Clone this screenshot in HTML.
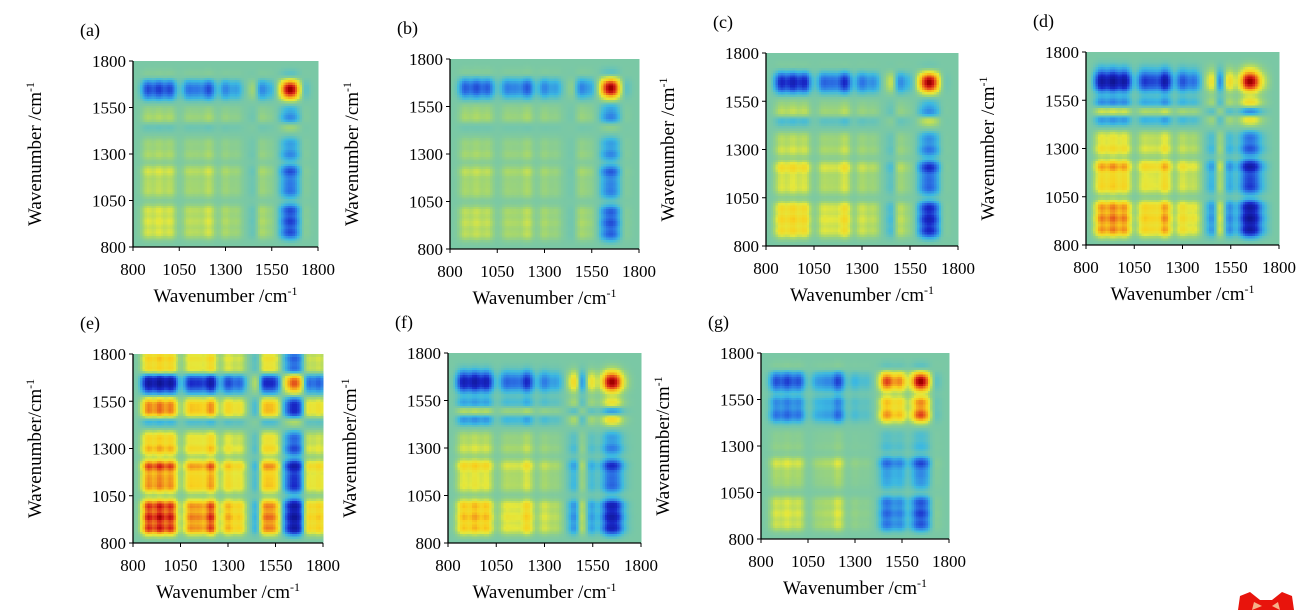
<!DOCTYPE html>
<html><head><meta charset="utf-8">
<style>
html,body{margin:0;padding:0;background:#fff;}
svg{display:block;font-family:"Liberation Serif","Times New Roman",serif;}
</style></head>
<body>
<svg id="fig" width="1302" height="610" viewBox="0 0 1302 610">
<g id="panels"></g>
<path d="M1238 610 L1240 596 L1250 592 L1260 600 L1272 600 L1282 592 L1292 596 L1294 610 Z" fill="#e8140c"/>
<path d="M1252 610 L1254 602 L1262 606 Z M1280 610 L1278 602 L1272 606 Z" fill="#f6b28a"/>
</svg>
<script>
// Shared band centres (cm^-1)
const bandCenters = [880, 940, 1000, 1100, 1150, 1210, 1300, 1360, 1460, 1490, 1540, 1620, 1650, 1680, 1720, 1780];
// Band amplitudes per panel (dynamic spectrum weights)
const ampA = [-0.42, -0.45, -0.42, -0.28, -0.25, -0.42, -0.25, -0.18, 0.15, -0.28, -0.12, 0.45, 0.6, 0.45, -0.1, 0.0];
const ampB = [-0.36, -0.4, -0.36, -0.25, -0.22, -0.38, -0.25, -0.18, 0.1, -0.28, -0.15, 0.45, 0.6, 0.45, -0.1, 0.0];
const ampC = [-0.55, -0.6, -0.55, -0.32, -0.28, -0.55, -0.3, -0.22, 0.25, -0.3, -0.1, 0.45, 0.6, 0.45, -0.05, 0.0];
const ampD = [-0.72, -0.78, -0.72, -0.45, -0.38, -0.7, -0.4, -0.3, 0.4, -0.42, 0.35, 0.45, 0.6, 0.45, 0.1, 0.0];
const ampE = [-0.92, -0.98, -0.92, -0.6, -0.55, -0.88, -0.55, -0.42, 0.3, -0.7, -0.6, 0.4, 0.55, 0.4, -0.45, -0.45];
const ampF = [-0.62, -0.68, -0.62, -0.32, -0.28, -0.55, -0.28, -0.18, 0.45, -0.38, 0.3, 0.45, 0.6, 0.45, 0.05, 0.0];
const ampG = [-0.4, -0.45, -0.4, -0.18, -0.22, -0.45, -0.12, -0.08, 0.55, 0.35, 0.55, 0.45, 0.6, 0.45, -0.1, 0.0];
const panelLabels = ["(a)", "(b)", "(c)", "(d)", "(e)", "(f)", "(g)"];
const tickValues = [800, 1050, 1300, 1550, 1800];
const yTitles = ["Wavenumber /cm", "Wavenumber /cm", "Wavenumber /cm", "Wavenumber /cm", "Wavenumber/cm", "Wavenumber/cm", "Wavenumber/cm"];

const amps = [ampA, ampB, ampC, ampD, ampE, ampF, ampG];
const layout = [
  {l:133,t:61,r:318,b:247},{l:450,t:59,r:639,b:249},{l:766,t:53,r:958,b:246},
  {l:1086,t:52,r:1279,b:245},{l:133,t:354,r:323,b:543},{l:448,t:353,r:641,b:543},
  {l:761,t:353,r:949,b:539}
];
const NS = "http://www.w3.org/2000/svg";
const N = 80, SIG = 23, WMIN = 800, WMAX = 1800;
const stops = [[-1,[10,10,120]],[-0.55,[25,40,200]],[-0.3,[45,120,230]],[-0.12,[60,185,225]],[0,[122,200,165]],[0.1,[165,215,110]],[0.22,[228,232,60]],[0.4,[248,210,30]],[0.6,[240,135,30]],[0.85,[215,30,25]],[1,[160,0,0]]];
function cmap(v){
  v=Math.max(-1,Math.min(1,v));
  for(let i=1;i<stops.length;i++){
    if(v<=stops[i][0]){const a=stops[i-1],b=stops[i];const f=(v-a[0])/(b[0]-a[0]);
      const c=a[1].map((x,k)=>Math.round(x+(b[1][k]-x)*f));return `rgb(${c[0]},${c[1]},${c[2]})`;}
  }
  return "rgb(160,0,0)";
}
function spec(w,a){let s=0;for(let k=0;k<bandCenters.length;k++){const d=w-bandCenters[k];s+=a[k]*Math.exp(-d*d/(2*SIG*SIG));}return s;}
function el(tag,attrs,parent){const e=document.createElementNS(NS,tag);for(const k in attrs)e.setAttribute(k,attrs[k]);parent.appendChild(e);return e;}
const root=document.getElementById("panels");
layout.forEach((L,p)=>{
  const g=el("g",{},root);
  
  
  const xs=w=>L.l+(w-WMIN)/(WMAX-WMIN)*(L.r-L.l);
  const ys=w=>L.b-(w-WMIN)/(WMAX-WMIN)*(L.b-L.t);
  const a=amps[p];
  const hm=el("g",{"shape-rendering":"crispEdges"},g);
  
  
  const step=(WMAX-WMIN)/N;
  const sv=[];for(let i=0;i<N;i++)sv.push(spec(WMIN+(i+0.5)*step,a));
  let mx=0;sv.forEach(v=>{mx=Math.max(mx,Math.abs(v));});
  const norm=1/(mx*mx);
  for(let j=0;j<N;j++){for(let i=0;i<N;i++){
    const x0=xs(WMIN+i*step),x1=xs(WMIN+(i+1)*step),y0=ys(WMIN+(j+1)*step),y1=ys(WMIN+j*step);
    const r=el("rect",{x:x0.toFixed(2),y:y0.toFixed(2),width:(x1-x0+0.6).toFixed(2),height:(y1-y0+0.6).toFixed(2),fill:cmap(sv[i]*sv[j]*norm)},hm);
    
    
  }}
  const ax=el("path",{d:`M${L.l} ${L.t} V${L.b} H${L.r}`,stroke:"#000","stroke-width":1.3,fill:"none"},g);
  
  
  tickValues.forEach(v=>{
    const yt=el("path",{d:`M${L.l-4} ${ys(v)} H${L.l}`,stroke:"#000","stroke-width":1},g);
    
    
    const xt=el("path",{d:`M${xs(v)} ${L.b} V${L.b+4}`,stroke:"#000","stroke-width":1},g);
    
    
    const yl=el("text",{x:L.l-7,y:ys(v)+6,"text-anchor":"end","font-size":17},g);yl.textContent=v;
    
    
    const xl=el("text",{x:xs(v),y:L.b+28,"text-anchor":"middle","font-size":17},g);xl.textContent=v;
    
    
  });
  const cx=(L.l+L.r)/2;
  const xtit=el("text",{x:cx,y:L.b+55,"text-anchor":"middle","font-size":19},g);
  xtit.innerHTML='Wavenumber /cm<tspan dy="-7" font-size="12">-1</tspan>';
  
  
  const cy=(L.t+L.b)/2, tx=L.l-92;
  const ytit=el("text",{x:tx,y:cy,"text-anchor":"middle","font-size":19,transform:`rotate(-90 ${tx} ${cy})`},g);
  ytit.innerHTML=yTitles[p]+'<tspan dy="-7" font-size="12">-1</tspan>';
  
  
  const pl=el("text",{x:L.l-53,y:L.t-25,"font-size":18},g);pl.textContent=panelLabels[p];
  
  
});
</script>
</body></html>
